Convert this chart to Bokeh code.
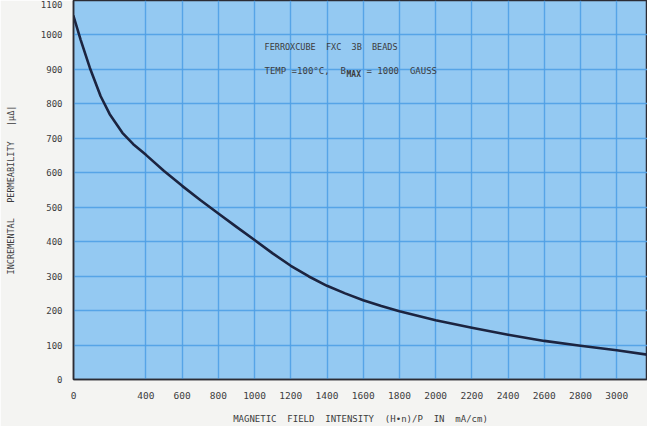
from bokeh.plotting import figure
from bokeh.models import FixedTicker, Label, Range1d
from bokeh.embed import file_html
from bokeh.resources import INLINE

# Data (field intensity in mA/cm, incremental permeability)
field_ma_cm = [0, 40, 90, 150, 200, 270, 330, 400, 500, 600, 700, 800, 900,
               1000, 1100, 1200, 1300, 1400, 1500, 1600, 1700, 1800, 1900,
               2000, 2200, 2400, 2600, 2800, 3000, 3170]
permeability = [1055, 985, 905, 822, 770, 716, 683, 652, 605, 562, 521, 482,
                443, 405, 366, 330, 299, 272, 250, 230, 213, 198, 185,
                172, 150, 130, 112, 98, 85, 72]

x_ticks = [0, 400, 600, 800, 1000, 1200, 1400, 1600, 1800, 2000, 2200,
           2400, 2600, 2800, 3000]
y_ticks = [0, 100, 200, 300, 400, 500, 600, 700, 800, 900, 1000, 1100]

S = "\u00a0"
title_line1 = f"FERROXCUBE{S*2}FXC{S*2}3B{S*2}BEADS"
title_line2a = f"TEMP{S}=100°C,{S*2}B"
title_line2b = "MAX"
title_line2c = f"={S}1000{S*2}GAUSS"
x_label = f"MAGNETIC{S*2}FIELD{S*2}INTENSITY{S*2}(H•n)/P{S*2}IN{S*2}mA/cm)"
y_label = f"INCREMENTAL{S*3}PERMEABILITY{S*3}|μΔ|"

FONT = "DejaVu Sans Mono"
TXT = "#3c3c40"

p = figure(width=647, height=426, output_backend="svg", toolbar_location=None,
           x_range=Range1d(0, 3170), y_range=Range1d(0, 1100),
           min_border_left=73, min_border_right=0, min_border_top=0,
           min_border_bottom=37)

p.background_fill_color = "#94c9f2"
p.border_fill_color = "#f4f4f2"
p.outline_line_color = "#2c2c34"
p.outline_line_width = 1.5

p.line(field_ma_cm, permeability, line_color="#1c2440", line_width=2.6,
       line_join="round", line_cap="round")

p.xaxis.ticker = FixedTicker(ticks=x_ticks)
p.yaxis.ticker = FixedTicker(ticks=y_ticks)
p.xgrid.ticker = FixedTicker(ticks=x_ticks)
p.ygrid.ticker = FixedTicker(ticks=y_ticks)
for g in (p.xgrid, p.ygrid):
    g.grid_line_color = "#4fa0e6"
    g.grid_line_width = 1.4
    g.grid_line_alpha = 0.9

for ax in (p.xaxis, p.yaxis):
    ax.axis_line_color = "#2c2c34"
    ax.axis_line_width = 1.5
    ax.major_tick_line_color = None
    ax.minor_tick_line_color = None
    ax.major_label_text_font = FONT
    ax.major_label_text_color = TXT
    ax.axis_label_text_font = FONT
    ax.axis_label_text_color = TXT
    ax.axis_label_text_font_style = "normal"

p.xaxis.major_label_text_font_size = "9.5px"
p.yaxis.major_label_text_font_size = "9px"
p.xaxis.axis_label_text_font_size = "9px"
p.yaxis.axis_label_text_font_size = "8.5px"
p.xaxis.major_label_standoff = 6
p.yaxis.major_label_standoff = 5
p.xaxis.axis_label = x_label
p.xaxis.axis_label_standoff = 12
p.yaxis.axis_label = y_label
p.yaxis.axis_label_standoff = 22

common = dict(text_font=FONT, text_color=TXT, text_baseline="middle")
p.add_layout(Label(x=1055, y=965, text=title_line1, text_font_size="8.5px",
                   **common))
p.add_layout(Label(x=1055, y=895, text=title_line2a, text_font_size="9px",
                   **common))
p.add_layout(Label(x=1055, y=895, x_offset=82, y_offset=-3, text=title_line2b,
                   text_font_size="8px", text_font_style="bold", **common))
p.add_layout(Label(x=1055, y=895, x_offset=102, text=title_line2c,
                   text_font_size="9px", **common))

open("out.html", "w").write(file_html(p, INLINE))
